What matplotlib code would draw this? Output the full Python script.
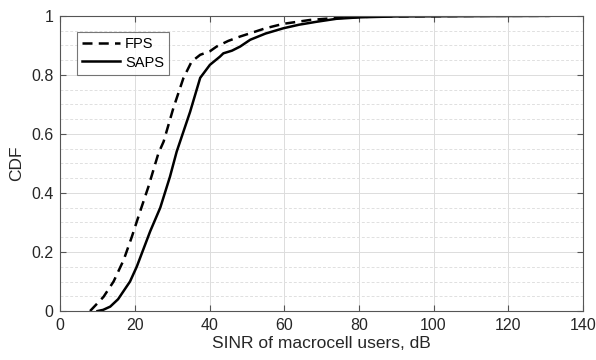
import numpy as np
import matplotlib
matplotlib.use("Agg")
import matplotlib.pyplot as plt
from matplotlib.ticker import MultipleLocator

plt.rcParams['font.family'] = ['Liberation Sans', 'DejaVu Sans']

# ─── Data ─────────────────────────────────────────────────────────────────────

fps_sinr = [8.0, 9.5, 11.6, 14.3, 17.0, 19.2, 21.4, 23.6, 26.3, 27.7, 30.3, 33.0,
            35.2, 37.5, 40.1, 41.9, 45.0, 48.2, 50.9, 55.0, 59.8, 66.9, 72.0, 78.5,
            85.0, 100.0, 115.0, 131.0]
fps_cdf = [0.0, 0.02, 0.048, 0.10, 0.173, 0.252, 0.337, 0.42, 0.534, 0.574, 0.687, 0.789,
           0.845, 0.868, 0.88, 0.896, 0.915, 0.93, 0.941, 0.958, 0.973, 0.986, 0.991, 0.995,
           0.998, 0.999, 1.0, 1.0]

saps_sinr = [10.0, 11.5, 13.4, 15.5, 18.7, 20.5, 22.3, 24.1, 26.8, 29.4, 31.2, 34.8,
             37.5, 40.1, 42.8, 43.7, 46.0, 48.2, 50.9, 55.0, 59.8, 64.0, 68.7, 74.0,
             80.3, 90.0, 110.0, 131.0]
saps_cdf = [0.0, 0.004, 0.015, 0.04, 0.10, 0.15, 0.21, 0.27, 0.35, 0.455, 0.54, 0.675,
            0.79, 0.834, 0.862, 0.873, 0.882, 0.896, 0.919, 0.94, 0.958, 0.97, 0.98, 0.99,
            0.995, 0.998, 0.999, 1.0]

x_ticks = [0, 20, 40, 60, 80, 100, 120, 140]
y_ticks = [0, 0.2, 0.4, 0.6, 0.8, 1]
y_tick_labels = ['0', '0.2', '0.4', '0.6', '0.8', '1']

# ─── Plot ─────────────────────────────────────────────────────────────────────

fig, ax = plt.subplots(figsize=(5.96, 3.6), dpi=100)
fig.subplots_adjust(left=0.101, right=0.978, top=0.956, bottom=0.136)

ax.plot(fps_sinr, fps_cdf, '--', color='black', lw=1.8, dashes=(4, 2.5), label='FPS')
ax.plot(saps_sinr, saps_cdf, '-', color='black', lw=1.8, label='SAPS')

ax.set_xlim(0, 140)
ax.set_ylim(0, 1)
ax.set_xticks(x_ticks)
ax.set_yticks(y_ticks)
ax.set_yticklabels(y_tick_labels)
ax.yaxis.set_minor_locator(MultipleLocator(0.05))

ax.grid(True, which='major', color='#dcdcdc', lw=0.7)
ax.grid(True, which='minor', axis='y', color='#e0e0e0', lw=0.7, ls=(0, (3, 2)))
ax.set_axisbelow(True)

ax.tick_params(which='major', direction='in', top=True, right=True, length=4,
               width=0.8, color='#555555', labelsize=11.5, labelcolor='#262626', pad=5)
ax.tick_params(which='minor', length=0)
for s in ax.spines.values():
    s.set_color('#555555')
    s.set_linewidth(0.8)

ax.set_xlabel('SINR of macrocell users, dB', fontsize=12.5, color='#262626', labelpad=2)
ax.set_ylabel('CDF', fontsize=12.5, color='#262626', labelpad=5)

leg = ax.legend(loc='upper left', bbox_to_anchor=(0.032, 0.945), fontsize=10.5,
                frameon=True, fancybox=False, edgecolor='#555555', handlelength=2.6,
                borderpad=0.35, labelspacing=0.3, handletextpad=0.35, borderaxespad=0)
leg.get_frame().set_linewidth(0.8)

fig.savefig('out.png', dpi=100)
